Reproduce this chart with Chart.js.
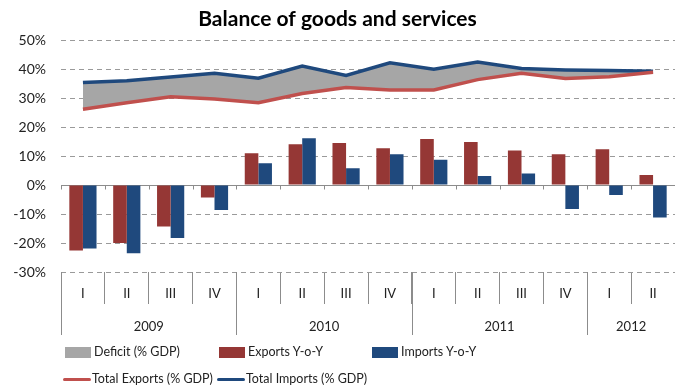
<!DOCTYPE html>
<html>
<head>
<meta charset="utf-8">
<title>Balance of goods and services</title>
<script src="https://cdn.jsdelivr.net/npm/chart.js@4.4.1/dist/chart.umd.min.js"></script>
<style>
  html, body { margin: 0; padding: 0; background: #fff; }
  #wrap { position: relative; width: 675px; height: 389px; }
  #legend .item { position: absolute; font: 12.5px Lato, sans-serif; color: #222; white-space: nowrap; line-height: 14px; }
  #legend .swatch { position: absolute; }
</style>
</head>
<body>
<div id="wrap">
  <canvas id="balanceChart" width="675" height="389"></canvas>
  <div id="legend"></div>
</div>
<script>
var quarters = ['I', 'II', 'III', 'IV', 'I', 'II', 'III', 'IV', 'I', 'II', 'III', 'IV', 'I', 'II'];
var years = ['2009', '2010', '2011', '2012'];
var quartersPerYear = [4, 4, 4, 2];

var exportsYoY = [-22.6, -20.0, -14.3, -4.3, 11.0, 14.1, 14.5, 12.7, 15.9, 14.9, 11.9, 10.6, 12.4, 3.5];
var importsYoY = [-21.9, -23.5, -18.3, -8.6, 7.5, 16.2, 5.8, 10.6, 8.7, 3.1, 4.0, -8.3, -3.4, -11.2];
var totalExports = [26.2, 28.4, 30.5, 29.7, 28.4, 31.6, 33.7, 32.8, 32.8, 36.4, 38.6, 36.8, 37.4, 38.9];
var totalImports = [35.4, 36.0, 37.3, 38.6, 36.9, 41.1, 37.8, 42.2, 40.0, 42.5, 40.2, 39.7, 39.5, 39.3];

var yMin = -30, yMax = 50, yStep = 10;

var RED_BAR = '#953735', BLUE_BAR = '#1F497D';
var RED_LINE = '#C0504D', BLUE_LINE = '#1F497D', GREY = '#A6A6A6';
var AXIS = '#8c8c8c';
var FONT = 'Lato, "Liberation Sans", sans-serif';

// zero line with small ticks, plus the year row under the quarter labels
var axisDecor = {
    id: 'axisDecor',
    beforeDatasetsDraw: function(chart) {
        var ctx = chart.ctx, x = chart.scales.x, y = chart.scales.y;
        var y0 = Math.round(y.getPixelForValue(0)) + 0.5;
        var step = x.getPixelForValue(1) - x.getPixelForValue(0);
        ctx.save();
        ctx.strokeStyle = AXIS;
        ctx.lineWidth = 1;
        ctx.beginPath();
        ctx.moveTo(x.left, y0);
        ctx.lineTo(x.right, y0);
        for (var i = 0; i <= quarters.length; i++) {
            var px = Math.round(x.getPixelForValue(0) - step / 2 + i * step) + 0.5;
            ctx.moveTo(px, y0);
            ctx.lineTo(px, y0 + 4);
        }
        ctx.stroke();
        ctx.restore();
    },
    afterDraw: function(chart) {
        var ctx = chart.ctx, x = chart.scales.x;
        var step = x.getPixelForValue(1) - x.getPixelForValue(0);
        var top = chart.chartArea.bottom, bottom = x.bottom;
        ctx.save();
        ctx.strokeStyle = AXIS;
        ctx.lineWidth = 1;
        ctx.fillStyle = '#222';
        ctx.font = '13px ' + FONT;
        ctx.textAlign = 'center';
        ctx.textBaseline = 'middle';
        var start = 0;
        for (var i = 0; i < years.length; i++) {
            var left = x.getPixelForValue(start) - step / 2;
            var right = x.getPixelForValue(start + quartersPerYear[i] - 1) + step / 2;
            var lx = Math.round(left) + 0.5;
            ctx.beginPath();
            ctx.moveTo(lx, top);
            ctx.lineTo(lx, bottom);
            ctx.stroke();
            ctx.fillText(years[i], (left + right) / 2, bottom - 8);
            start += quartersPerYear[i];
        }
        ctx.restore();
    }
};

var ctx = document.getElementById('balanceChart').getContext('2d');
var balanceChart = new Chart(ctx, {
    type: 'bar',
    data: {
        labels: quarters,
        datasets: [{
            type: 'line',
            label: 'Deficit (% GDP)',
            data: totalImports,
            backgroundColor: GREY,
            borderWidth: 0,
            pointRadius: 0,
            fill: 3,
            order: 4
        }, {
            label: 'Exports Y-o-Y',
            data: exportsYoY,
            backgroundColor: RED_BAR,
            categoryPercentage: 0.62,
            barPercentage: 1,
            order: 3
        }, {
            label: 'Imports Y-o-Y',
            data: importsYoY,
            backgroundColor: BLUE_BAR,
            categoryPercentage: 0.62,
            barPercentage: 1,
            order: 3
        }, {
            type: 'line',
            label: 'Total Exports (% GDP)',
            data: totalExports,
            borderColor: RED_LINE,
            borderWidth: 3.5,
            pointRadius: 0,
            tension: 0,
            fill: false,
            order: 1
        }, {
            type: 'line',
            label: 'Total Imports (% GDP)',
            data: totalImports,
            borderColor: BLUE_LINE,
            borderWidth: 3.5,
            pointRadius: 0,
            tension: 0,
            fill: false,
            order: 1
        }]
    },
    options: {
        responsive: false,
        animation: false,
        layout: { padding: { left: 0, right: 0, top: 0, bottom: 54 } },
        scales: {
            x: {
                offset: true,
                border: { display: false },
                grid: {
                    offset: true,
                    drawOnChartArea: false,
                    drawTicks: true,
                    tickLength: 32,
                    color: AXIS
                },
                ticks: {
                    color: '#222',
                    padding: -18,
                    maxRotation: 0,
                    autoSkip: false,
                    font: { size: 13, family: FONT }
                },
                afterFit: function(scale) { scale.height = 63; }
            },
            y: {
                min: yMin,
                max: yMax,
                border: { display: false, dash: [5, 4] },
                grid: {
                    drawTicks: false,
                    color: '#9a9a9a',
                    lineWidth: 1
                },
                ticks: {
                    stepSize: yStep,
                    padding: 15,
                    color: '#222',
                    font: { size: 14, family: FONT },
                    callback: function(v) { return v + '%'; }
                },
                afterFit: function(scale) { scale.width = 61; }
            }
        },
        plugins: {
            title: {
                display: true,
                text: 'Balance of goods and services',
                color: '#000',
                font: { size: 21, weight: 'bold', family: FONT },
                padding: { top: 7, bottom: 8 }
            },
            legend: { display: false },
            tooltip: { enabled: false }
        }
    },
    plugins: [axisDecor]
});

// legend laid out in two rows under the axis
var legendItems = [
    { text: 'Deficit (% GDP)', color: GREY, kind: 'box', x: 65, y: 345 },
    { text: 'Exports Y-o-Y', color: RED_BAR, kind: 'box', x: 219, y: 345 },
    { text: 'Imports Y-o-Y', color: BLUE_BAR, kind: 'box', x: 372, y: 345 },
    { text: 'Total Exports (% GDP)', color: RED_LINE, kind: 'line', x: 63, y: 372 },
    { text: 'Total Imports  (% GDP)', color: BLUE_LINE, kind: 'line', x: 217, y: 372 }
];
var legendEl = document.getElementById('legend');
legendItems.forEach(function(item) {
    var sw = document.createElement('div');
    sw.className = 'swatch';
    sw.style.background = item.color;
    sw.style.left = item.x + 'px';
    if (item.kind === 'box') {
        sw.style.top = (item.y + 2) + 'px';
        sw.style.width = '26px';
        sw.style.height = '11px';
    } else {
        sw.style.top = (item.y + 6) + 'px';
        sw.style.width = '28px';
        sw.style.height = '3px';
        sw.style.borderRadius = '2px';
    }
    legendEl.appendChild(sw);
    var label = document.createElement('div');
    label.className = 'item';
    label.textContent = item.text;
    label.style.left = (item.x + 29) + 'px';
    label.style.top = item.y + 'px';
    legendEl.appendChild(label);
});
</script>
</body>
</html>
